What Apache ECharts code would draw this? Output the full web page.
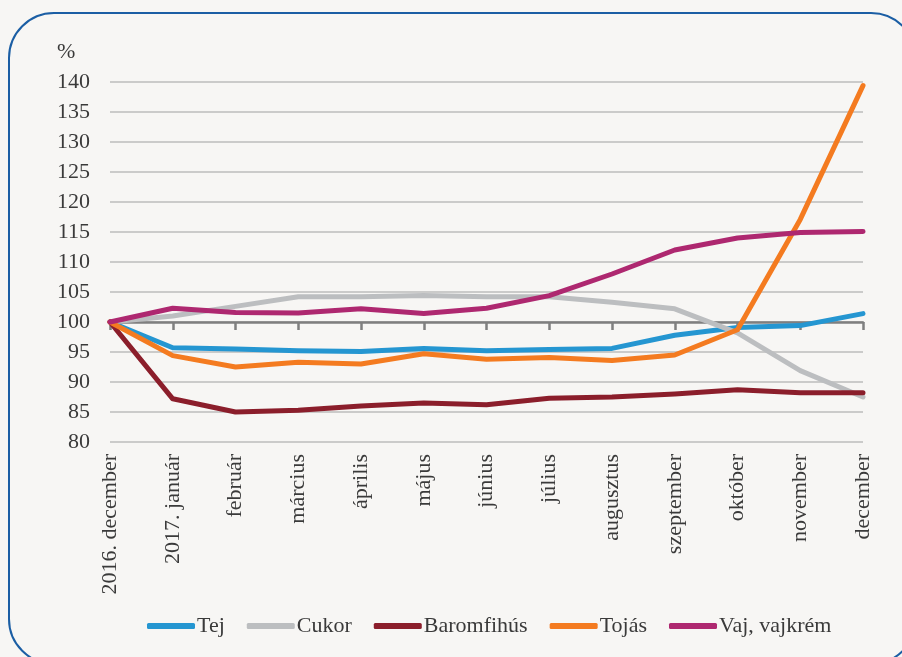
<!DOCTYPE html>
<html>
<head>
<meta charset="utf-8">
<script src="https://cdn.jsdelivr.net/npm/echarts@6/dist/echarts.min.js"></script>
<style>
html,body{margin:0;padding:0;background:#f7f6f4;}
#chart{width:902px;height:657px;}
</style>
</head>
<body>
<div id="chart"></div>
<script>
const categories = ['2016. december','2017. január','február','március','április','május','június','július','augusztus','szeptember','október','november','december'];
const yTicks = [80, 140, 5];
const tej =        [100, 95.7, 95.5, 95.2, 95.1, 95.6, 95.2, 95.4, 95.6, 97.8, 99.1, 99.4, 101.4];
const cukor =      [100, 101.0, 102.6, 104.2, 104.2, 104.4, 104.2, 104.2, 103.3, 102.2, 98.2, 91.9, 87.5];
const baromfihus = [100, 87.2, 85.0, 85.3, 86.0, 86.5, 86.2, 87.3, 87.5, 88.0, 88.7, 88.2, 88.2];
const tojas =      [100, 94.4, 92.5, 93.3, 93.0, 94.7, 93.8, 94.1, 93.6, 94.5, 98.7, 117.1, 139.4];
const vaj =        [100, 102.3, 101.6, 101.5, 102.2, 101.4, 102.3, 104.4, 108.0, 112.0, 114.0, 114.9, 115.1];

const names = ['Tej','Cukor','Baromfihús','Tojás','Vaj, vajkrém'];
const colors = ['#2596d1','#bcbec0','#8b1e2b','#f47b20','#ae2870'];
const seriesData = [tej, cukor, baromfihus, tojas, vaj];

const FONT = 'Liberation Serif';
const chart = echarts.init(document.getElementById('chart'), null, {renderer:'canvas'});
chart.setOption({
  backgroundColor: '#f7f6f4',
  animation: false,
  graphic: [
    {type:'rect', shape:{x:9, y:13, width:907, height:651, r:45}, style:{fill:'none', stroke:'#1b5ea4', lineWidth:2}, z:-1},
    {type:'text', left:57, top:41, style:{text:'%', font:'22px "Liberation Serif"', fill:'#3a3a3a'}}
  ],
  grid: {left:110, right:39, top:82, bottom:215, containLabel:false},
  legend: {
    left:142, top:610, itemWidth:48, itemHeight:6, itemGap:22, icon:'roundRect',
    textStyle:{fontFamily:FONT, fontSize:22, color:'#3a3a3a', padding:[0,0,0,-3]},
    data: names
  },
  xAxis: [
    {type:'category', data:categories, boundaryGap:false,
     axisLine:{show:false}, axisTick:{show:false},
     axisLabel:{rotate:90, interval:0, margin:12, fontFamily:FONT, fontSize:22, color:'#3a3a3a'}},
    {type:'category', data:categories, boundaryGap:false, position:'bottom', offset:-120,
     axisLine:{show:true, lineStyle:{color:'#7f7f7f', width:2.5}},
     axisTick:{show:true, length:8, interval:0, lineStyle:{color:'#7f7f7f', width:2.5}},
     axisLabel:{show:false}}
  ],
  yAxis: {
    type:'value', min:yTicks[0], max:yTicks[1], interval:yTicks[2],
    axisLine:{show:false}, axisTick:{show:false},
    axisLabel:{margin:20, fontFamily:FONT, fontSize:22, color:'#3a3a3a'},
    splitLine:{lineStyle:{color:'#bdbdbd', width:1.5}}
  },
  series: names.map((n,i)=>({
    name:n, type:'line', data:seriesData[i], xAxisIndex:0,
    symbol:'none', lineStyle:{width:5, color:colors[i], cap:'round', join:'round'}, itemStyle:{color:colors[i]}
  }))
});
</script>
</body>
</html>
